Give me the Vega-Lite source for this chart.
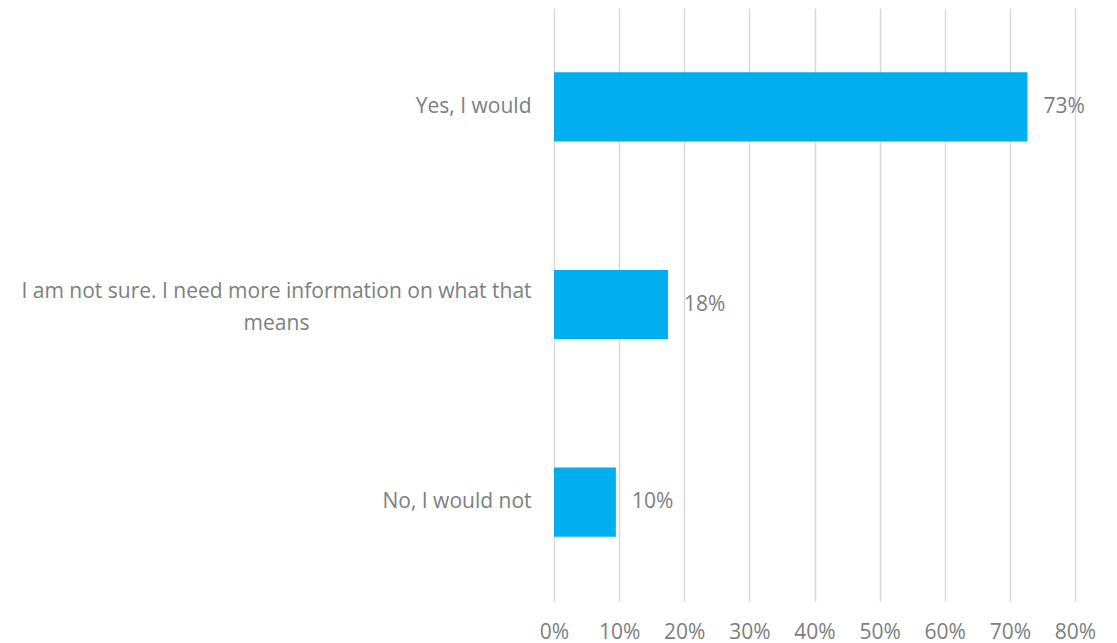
{
  "$schema": "https://vega.github.io/schema/vega-lite/v6.json",
  "width": 521,
  "height": 593,
  "autosize": "none",
  "padding": {"left": 554, "top": 8, "right": 42, "bottom": 42},
  "background": "white",
  "config": {"view": {"stroke": null}, "font": "Open Sans"},
  "data": {
    "values": [
      {"answer": "Yes, I would", "share": 0.727, "label": "73%"},
      {"answer": "I am not sure. I need more information on what that means", "share": 0.175, "label": "18%"},
      {"answer": "No, I would not", "share": 0.095, "label": "10%"}
    ]
  },
  "encoding": {
    "y": {
      "field": "answer",
      "type": "nominal",
      "sort": null,
      "scale": {"paddingInner": 0.65, "paddingOuter": 0.325},
      "axis": {
        "title": null,
        "domain": false,
        "ticks": false,
        "labelFont": "Open Sans",
        "labelFontSize": 21,
        "labelColor": "#7b7f7f",
        "labelLimit": 700,
        "labelLineHeight": 32,
        "labelAlign": {"condition": {"test": "length(datum.value) > 40", "value": "center"}, "value": "right"},
        "labelPadding": {"condition": {"test": "length(datum.value) > 40", "value": 278}, "value": 23},
        "labelOffset": {"condition": {"test": "length(datum.value) > 40", "value": -13}, "value": 0},
        "labelExpr": "length(datum.value) > 40 ? ['I am not sure. I need more information on what that', 'means'] : datum.value"
      }
    },
    "x": {
      "field": "share",
      "type": "quantitative",
      "scale": {"domain": [0, 0.8], "nice": false},
      "axis": {
        "title": null,
        "format": ".0%",
        "values": [0, 0.1, 0.2, 0.3, 0.4, 0.5, 0.6, 0.7, 0.8],
        "domain": false,
        "ticks": false,
        "grid": true,
        "gridColor": "#d9d9d9",
        "gridWidth": 1.5,
        "labelFlush": false,
        "labelOverlap": false,
        "labelFont": "Open Sans",
        "labelFontSize": 21,
        "labelColor": "#7b7f7f",
        "labelBaseline": "alphabetic",
        "labelPadding": 37
      }
    }
  },
  "layer": [
    {"mark": {"type": "bar", "color": "#00AEEF"}},
    {
      "mark": {"type": "text", "align": "left", "baseline": "middle", "dx": 16, "fontSize": 21, "color": "#7b7f7f", "font": "Open Sans"},
      "encoding": {"text": {"field": "label"}}
    }
  ]
}
